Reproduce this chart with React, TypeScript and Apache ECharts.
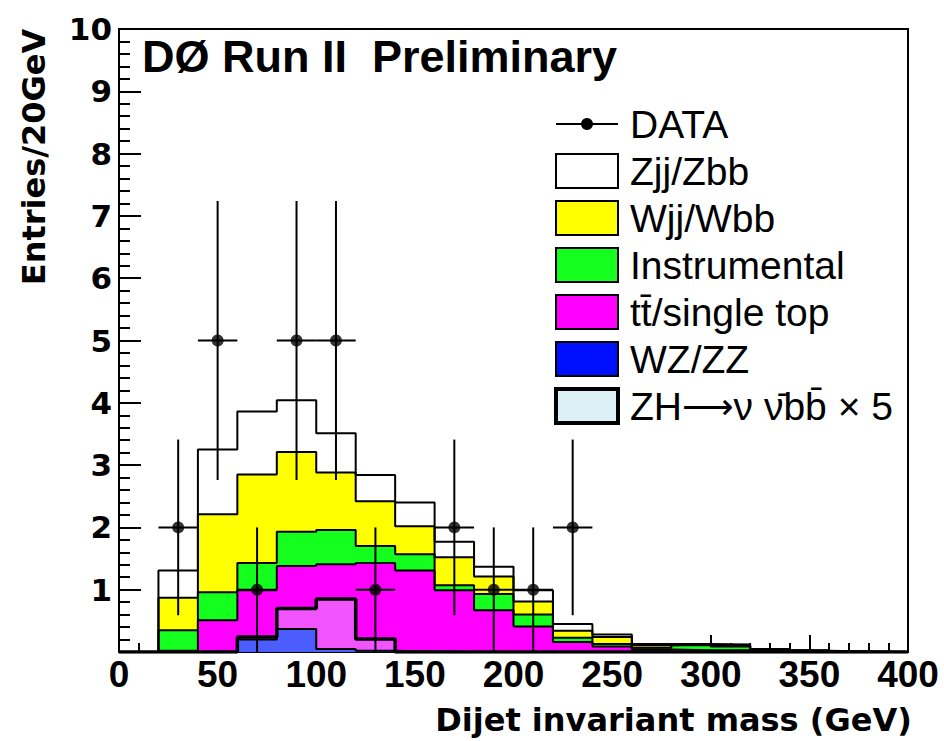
import React, { useEffect, useRef } from "react";
import * as echarts from "echarts";

// ---- data ----
const binWidth = 20;
const binLow = [0, 20, 40, 60, 80, 100, 120, 140, 160, 180, 200, 220, 240, 260, 280, 300, 320, 340, 360, 380];
// individual (non-cumulative) contributions per bin
const wzzz = [0, 0, 0.01, 0.2, 0.37, 0.05, 0.02, 0.01, 0, 0, 0, 0, 0, 0, 0, 0, 0, 0, 0, 0];
const ttTop = [0, 0.02, 0.5, 0.79, 1.01, 1.36, 1.41, 1.3, 0.99, 0.67, 0.41, 0.16, 0.09, 0.04, 0.03, 0.03, 0.01, 0, 0, 0];
const instrumental = [0, 0.33, 0.45, 0.44, 0.55, 0.55, 0.27, 0.26, 0.08, 0.26, 0.19, 0.07, 0.04, 0.03, 0.08, 0.06, 0.02, 0.02, 0, 0];
const wjj = [0, 0.52, 1.25, 1.42, 1.28, 0.92, 0.72, 0.45, 0.45, 0.28, 0.21, 0.11, 0.11, 0.04, 0.01, 0.01, 0.01, 0, 0.01, 0];
const zjj = [0, 0.44, 1.04, 1.01, 0.83, 0.63, 0.42, 0.38, 0.25, 0.16, 0.18, 0.11, 0.04, 0.02, 0.01, 0.02, 0.01, 0.01, 0, 0];
const zhSignalx5 = [0, 0, 0, 0.24, 0.7, 0.85, 0.21, 0, 0, 0, 0, 0, 0, 0, 0, 0, 0, 0, 0, 0];

const dataX = [30, 50, 70, 90, 110, 130, 170, 190, 210, 230];
const dataY = [2, 5, 1, 5, 5, 1, 2, 1, 1, 2];
const dataErrLow = [0.59, 2.76, 0, 2.76, 2.76, 0, 0.59, 0, 0, 0.59];
const dataErrHigh = [3.41, 7.24, 2, 7.24, 7.24, 2, 3.41, 2, 2, 3.41];

const xTicks = { min: 0, max: 400, interval: 50 };
const yTicks = { min: 0, max: 10, interval: 1 };

const legendNames = [
  "DATA",
  "Zjj/Zbb",
  "Wjj/Wbb",
  "Instrumental",
  "tt\u0304/single top",
  "WZ/ZZ",
  "{a|ZH}{b|\u27f6}{a|\u03bd \u03bd\u0304bb\u0304 \u00d7 5}",
];

const COLORS = {
  zjj: "#ffffff",
  wjj: "#ffff00",
  instr: "#14ff1e",
  tt: "#ff00ff",
  wz: "#0010ff",
  zh: "#dcf0f6",
};

const ARIAL = "'Liberation Sans', Arial, Helvetica, sans-serif";
const DEJAVU = "'DejaVu Sans', 'Liberation Sans', sans-serif";

function cumulative(layers: number[][]): number[][] {
  const out: number[][] = [];
  let acc = binLow.map(() => 0);
  for (const l of layers) {
    acc = acc.map((v, i) => v + l[i]);
    out.push(acc.slice());
  }
  return out;
}

function stepData(vals: number[]) {
  const pts: number[][] = binLow.map((x, i) => [x, vals[i]]);
  pts.push([binLow[binLow.length - 1] + binWidth, 0]);
  return pts;
}

export default function App() {
  const ref = useRef<HTMLDivElement>(null);
  useEffect(() => {
    if (!ref.current) return;
    const chart = echarts.init(ref.current, undefined, { renderer: "svg" });
    const [cWz, cTt, cInstr, cWjj, cZjj] = cumulative([wzzz, ttTop, instrumental, wjj, zjj]);

    const histLine = (name: string, vals: number[], color: string, lw = 2, opacity = 1) => ({
      type: "line",
      name,
      step: "end",
      data: stepData(vals),
      symbol: "none",
      z: 2,
      lineStyle: { color: "#000", width: lw },
      areaStyle: { color, opacity },
      silent: true,
    });

    const legendTop = 124;
    const legendGap = 47;
    const boxX = 556;
    const boxW = 62;
    const boxH = 34;
    const textX = 630;
    const fills = [null, COLORS.zjj, COLORS.wjj, COLORS.instr, COLORS.tt, COLORS.wz, COLORS.zh];
    const legendEls: any[] = [];
    legendNames.forEach((name, i) => {
      const cy = legendTop + i * legendGap;
      if (i === 0) {
        legendEls.push({ type: "line", shape: { x1: boxX, y1: cy, x2: boxX + boxW, y2: cy }, style: { stroke: "#000", lineWidth: 2 } });
        legendEls.push({ type: "circle", shape: { cx: boxX + boxW / 2, cy, r: 6 }, style: { fill: "#000" } });
      } else {
        legendEls.push({
          type: "rect",
          shape: { x: boxX, y: cy - boxH / 2, width: boxW, height: boxH },
          style: { fill: fills[i], stroke: "#000", lineWidth: i === 6 ? 4 : 2 },
        });
      }
      legendEls.push({
        type: "text",
        x: textX,
        y: cy,
        style: {
          text: name,
          fill: "#000",
          font: `39px ${ARIAL}`,
          verticalAlign: "middle",
          align: "left",
          rich: {
            a: { font: `39px ${ARIAL}`, fill: "#000", verticalAlign: "middle" },
            b: { font: `36px ${DEJAVU}`, fill: "#000", verticalAlign: "middle" },
          },
        },
      });
    });

    const option: any = {
      animation: false,
      backgroundColor: "#fff",
      grid: { left: 119, top: 29, right: 36, bottom: 86, show: true, borderColor: "#000", borderWidth: 2, backgroundColor: "transparent" },
      xAxis: {
        type: "value",
        min: xTicks.min,
        max: xTicks.max,
        interval: xTicks.interval,
        name: "Dijet invariant mass (GeV)",
        nameLocation: "middle",
        nameGap: 52,
        nameTextStyle: { fontFamily: DEJAVU, fontWeight: "bold", fontSize: 32, color: "#000", padding: [0, 0, 0, 320] },
        axisLine: { lineStyle: { color: "#000", width: 2 } },
        axisTick: { inside: true, length: 17, lineStyle: { color: "#000", width: 2 } },
        minorTick: { show: true, splitNumber: 5, length: 9, lineStyle: { color: "#000", width: 2 } },
        splitLine: { show: false },
        axisLabel: { fontFamily: ARIAL, fontWeight: "bold", fontSize: 37, color: "#000", margin: 4 },
      },
      yAxis: {
        type: "value",
        min: yTicks.min,
        max: yTicks.max,
        interval: yTicks.interval,
        name: "Entries/20GeV",
        nameLocation: "middle",
        nameRotate: 90,
        nameGap: 69,
        nameTextStyle: { fontFamily: DEJAVU, fontWeight: "bold", fontSize: 32, color: "#000", padding: [0, 0, 0, 367] },
        axisLine: { lineStyle: { color: "#000", width: 2 } },
        axisTick: { inside: true, length: 22, lineStyle: { color: "#000", width: 2 } },
        minorTick: { show: true, splitNumber: 5, length: 11, lineStyle: { color: "#000", width: 2 } },
        splitLine: { show: false },
        axisLabel: {
          fontFamily: DEJAVU,
          fontWeight: "bold",
          fontSize: 31,
          color: "#000",
          margin: 7,
          formatter: (v: number) => (v === 0 ? "" : String(v)),
        },
      },
      graphic: [
        {
          type: "text",
          x: 142,
          y: 56,
          style: { text: "D\u00d8 Run II  Preliminary", fill: "#000", font: `bold 45px ${ARIAL}`, verticalAlign: "middle" },
        },
        ...legendEls,
      ],
      series: [
        histLine("Zjj/Zbb", cZjj, COLORS.zjj),
        histLine("Wjj/Wbb", cWjj, COLORS.wjj),
        histLine("Instrumental", cInstr, COLORS.instr),
        histLine("tt/single top", cTt, COLORS.tt),
        histLine("WZ/ZZ", cWz, COLORS.wz),
        histLine("ZH x 5", zhSignalx5, "#d8eef8", 3.5, 0.35),
        {
          type: "custom",
          name: "DATA errors",
          z: 10,
          data: dataX.map((x, i) => [x, dataY[i], dataErrLow[i], dataErrHigh[i]]),
          encode: { x: 0, y: 1 },
          silent: true,
          renderItem: (_p: any, api: any) => {
            const x = api.value(0);
            const y = api.value(1);
            const top = api.coord([x, api.value(3)]);
            const bot = api.coord([x, api.value(2)]);
            const l = api.coord([x - binWidth / 2, y]);
            const r = api.coord([x + binWidth / 2, y]);
            return {
              type: "group",
              children: [
                { type: "line", shape: { x1: top[0], y1: top[1], x2: bot[0], y2: bot[1] }, style: { stroke: "#000", lineWidth: 2 } },
                { type: "line", shape: { x1: l[0], y1: l[1], x2: r[0], y2: r[1] }, style: { stroke: "#000", lineWidth: 2 } },
              ],
            };
          },
        },
        {
          type: "scatter",
          name: "DATA",
          z: 11,
          data: dataX.map((x, i) => [x, dataY[i]]),
          symbol: "circle",
          symbolSize: 12,
          itemStyle: { color: "#000" },
          silent: true,
        },
      ],
    };
    chart.setOption(option);
    return () => chart.dispose();
  }, []);
  return <div ref={ref} style={{ position: "absolute", left: 0, top: 0, width: 944, height: 741, background: "#fff" }} />;
}
